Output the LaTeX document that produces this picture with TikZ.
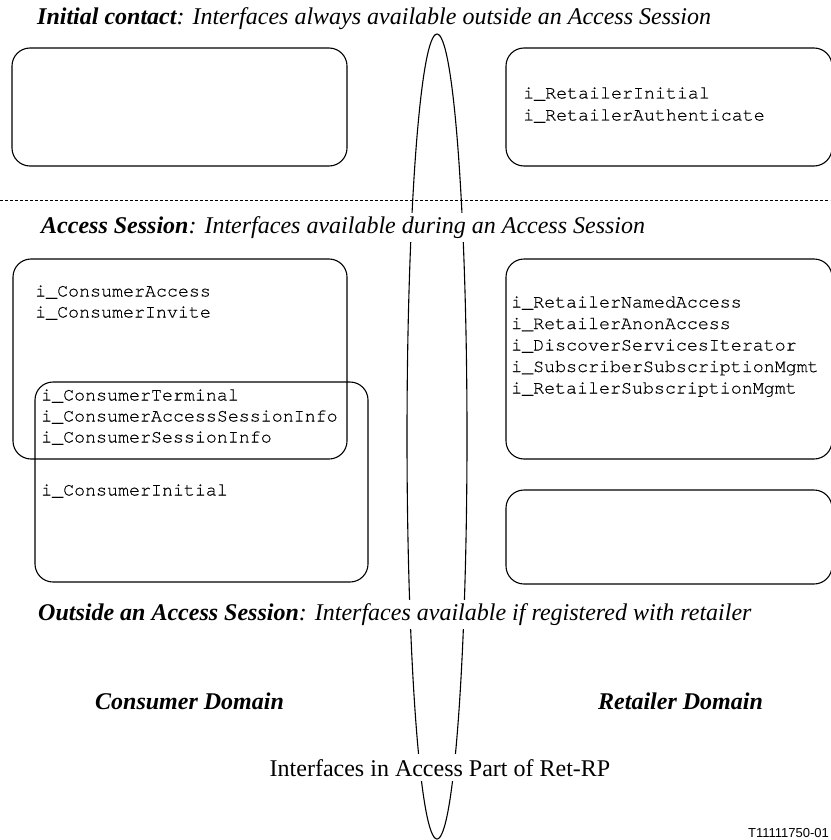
\documentclass[tikz,border=0pt]{standalone}
\usepackage{fontspec}
\setmainfont{Liberation Serif}
\setmonofont[FakeBold=0.4]{TeX Gyre Cursor}
\newfontfamily\labelsans{Liberation Sans}
\begin{document}
\begin{tikzpicture}[x=1pt,y=-1pt,
  ibox/.style={draw,line width=1.1pt,rounded corners=18pt},
  ttl/.style={font=\fontsize{24}{28}\selectfont\itshape,anchor=base west,inner sep=0pt},
  whitettl/.style={ttl,fill=white,inner ysep=3.5pt,inner xsep=1pt},
  codeline/.style={font=\fontsize{18.3}{21}\selectfont\ttfamily,anchor=west,inner sep=0pt,text height=0.62em,text depth=0.12em},
  domlabel/.style={font=\fontsize{24}{28}\selectfont\bfseries\itshape,anchor=base west,inner sep=0pt}]
\useasboundingbox (0,0) rectangle (830,840);
% central ellipse
\draw[line width=1.1pt] (437,436.5) ellipse [x radius=30, y radius=402.5];
% dashed separator
\coordinate (dl) at (0,200);
\coordinate (dr) at (830,200);
\draw[line width=0.8pt,dash pattern=on 3pt off 2pt] (dl) -- (dr);
% titles
\node[ttl] (t1) at (37,25) {\textbf{Initial contact}: Interfaces always available outside an Access Session};
\node[whitettl] (t2) at (40,233) {\textbf{Access Session}: Interfaces available during an Access Session};
\node[whitettl] (t3) at (37,620) {\textbf{Outside an Access Session}: Interfaces available if registered with retailer};
% boxes
\draw[ibox] (12,48) rectangle (347,166);
\draw[ibox] (506,48) rectangle (832,166);
\draw[ibox] (13,259) rectangle (347,459);
\draw[ibox] (506,259) rectangle (832,459);
\draw[ibox] (35,382) rectangle (368,582);
\draw[ibox] (506,490) rectangle (832,584);
% box texts
\node[codeline] (ri) at (523,96) {i\_RetailerInitial};
\node[codeline] (ra) at (523,118) {i\_RetailerAuthenticate};
\node[codeline] (ca) at (35,294) {i\_ConsumerAccess};
\node[codeline] (ci) at (35,315) {i\_ConsumerInvite};
\node[codeline] (rn) at (511,305) {i\_RetailerNamedAccess};
\node[codeline] (ran) at (511,326.5) {i\_RetailerAnonAccess};
\node[codeline] (ds) at (511,348) {i\_DiscoverServicesIterator};
\node[codeline] (ss) at (511,369.5) {i\_SubscriberSubscriptionMgmt};
\node[codeline] (rs) at (511,391) {i\_RetailerSubscriptionMgmt};
\node[codeline] (ct) at (41,398) {i\_ConsumerTerminal};
\node[codeline] (cas) at (41,419) {i\_ConsumerAccessSessionInfo};
\node[codeline] (cs) at (41,440) {i\_ConsumerSessionInfo};
\node[codeline] (cin) at (41,493) {i\_ConsumerInitial};
% domains
\node[domlabel] (cd) at (95,709) {Consumer Domain};
\node[domlabel] (rd) at (598,709) {Retailer Domain};
\node[font=\fontsize{24}{28}\selectfont,anchor=base,fill=white,inner ysep=5pt,inner xsep=1pt] (ir) at (440,776) {Interfaces in Access Part of Ret-RP};
\node[font=\fontsize{13}{15}\selectfont\labelsans,anchor=base east,inner sep=0pt] (id) at (829,837) {T11111750-01};
\end{tikzpicture}
\end{document}
